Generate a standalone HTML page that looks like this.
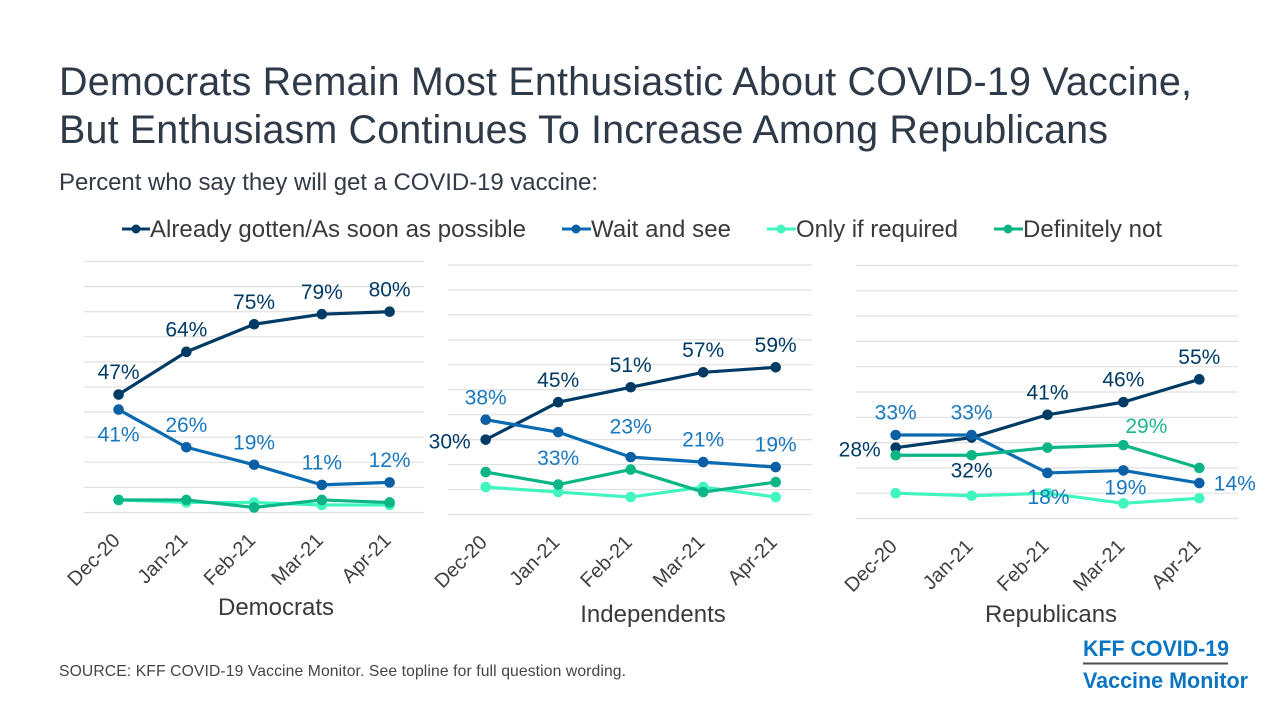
<!DOCTYPE html>
<html lang="en">
<head>
<meta charset="utf-8">
<title>Democrats Remain Most Enthusiastic About COVID-19 Vaccine</title>
<style>
  html, body { margin: 0; padding: 0; background: #ffffff; }
  svg { display: block; font-family: "Liberation Sans", Arial, sans-serif; }
</style>
</head>
<body>
<svg id="chart" xmlns="http://www.w3.org/2000/svg" width="1280" height="720" viewBox="0 0 1280 720">
  <rect width="1280" height="720" fill="#ffffff"/>
  <text x="59" y="95" font-size="39.5" fill="#2f3a48" textLength="1133" lengthAdjust="spacing">Democrats Remain Most Enthusiastic About COVID-19 Vaccine,</text>
  <text x="59" y="143" font-size="39.5" fill="#2f3a48" textLength="1049" lengthAdjust="spacing">But Enthusiasm Continues To Increase Among Republicans</text>
  <text x="59" y="190" font-size="24" fill="#333b47" textLength="539" lengthAdjust="spacing">Percent who say they will get a COVID-19 vaccine:</text>

  <g>
    <g>
      <line x1="122" y1="229" x2="150" y2="229" stroke="#003b65" stroke-width="3"/>
      <circle cx="136" cy="229" r="4.5" fill="#003b65"/>
      <text x="150" y="237" font-size="24" fill="#3a3a3a" textLength="376" lengthAdjust="spacing">Already gotten/As soon as possible</text>
    </g>
    <g>
      <line x1="562" y1="229" x2="591" y2="229" stroke="#0a6ab2" stroke-width="3"/>
      <circle cx="576" cy="229" r="4.5" fill="#0a5fa5"/>
      <text x="591" y="237" font-size="24" fill="#3a3a3a" textLength="140" lengthAdjust="spacing">Wait and see</text>
    </g>
    <g>
      <line x1="767" y1="229" x2="796" y2="229" stroke="#41f5c0" stroke-width="3"/>
      <circle cx="781" cy="229" r="4.5" fill="#41f5c0"/>
      <text x="796" y="237" font-size="24" fill="#3a3a3a" textLength="162" lengthAdjust="spacing">Only if required</text>
    </g>
    <g>
      <line x1="994" y1="229" x2="1023" y2="229" stroke="#0bb585" stroke-width="3"/>
      <circle cx="1008" cy="229" r="4.5" fill="#0bb585"/>
      <text x="1023" y="237" font-size="24" fill="#3a3a3a" textLength="139" lengthAdjust="spacing">Definitely not</text>
    </g>
  </g>

  <g id="panels"></g>

  <text x="59" y="676" font-size="15.7" fill="#444444" textLength="567" lengthAdjust="spacing">SOURCE: KFF COVID-19 Vaccine Monitor. See topline for full question wording.</text>

  <g>
    <text x="1083" y="656" font-size="22.5" font-weight="700" fill="#0a75c2" textLength="146" lengthAdjust="spacingAndGlyphs">KFF COVID-19</text>
    <line x1="1083" y1="663.5" x2="1228" y2="663.5" stroke="#4d4d4d" stroke-width="2"/>
    <text x="1083" y="688" font-size="22.5" font-weight="700" fill="#0a75c2" textLength="165" lengthAdjust="spacingAndGlyphs">Vaccine Monitor</text>
  </g>
</svg>

<script>
// Chart data
const categories = ['Dec-20', 'Jan-21', 'Feb-21', 'Mar-21', 'Apr-21'];
const gridTicks = [0, 10, 20, 30, 40, 50, 60, 70, 80, 90, 100];

const demAsSoon = [47, 64, 75, 79, 80];
const demWait = [41, 26, 19, 11, 12];
const demRequired = [5, 4, 4, 3, 3];
const demNot = [5, 5, 2, 5, 4];

const indAsSoon = [30, 45, 51, 57, 59];
const indWait = [38, 33, 23, 21, 19];
const indRequired = [11, 9, 7, 11, 7];
const indNot = [17, 12, 18, 9, 13];

const repAsSoon = [28, 32, 41, 46, 55];
const repWait = [33, 33, 18, 19, 14];
const repRequired = [10, 9, 10, 6, 8];
const repNot = [25, 25, 28, 29, 20];

// Label placement relative to each mark (dx, dy of the label centre)
const up = [0, -23];
const demAsSoonPlace = [up, up, up, up, up];
const demWaitPlace = [[0, 24.5], up, up, up, up];
const indAsSoonPlace = [[-36, 1], up, up, up, up];
const indWaitPlace = [up, [0, 25], [0, -31], up, up];
const repAsSoonPlace = [[-36, 1], [0, 32.5], up, up, up];
const repWaitPlace = [up, up, [1, 23.5], [2, 16.5], [35.5, 0]];
const repNotPlace = [null, null, null, [23, -19.5], null];

const panels = [
  {
    key: 'democrats', title: 'Democrats', titleX: 276, titleY: 615,
    left: 84, right: 424, top: 261.5, bottom: 512.5, firstX: 118.6, stepX: 67.75,
    series: [
      { key: 'as-soon-as-possible', values: demAsSoon, line: '#003b65', mark: '#003b65', text: '#003b65', place: demAsSoonPlace },
      { key: 'wait-and-see', values: demWait, line: '#0a6ab2', mark: '#0a5fa5', text: '#1a78bf', place: demWaitPlace },
      { key: 'only-if-required', values: demRequired, line: '#41f5c0', mark: '#41f5c0' },
      { key: 'definitely-not', values: demNot, line: '#0bb585', mark: '#0bb585' }
    ]
  },
  {
    key: 'independents', title: 'Independents', titleX: 653, titleY: 622,
    left: 448, right: 812, top: 265, bottom: 514.5, firstX: 485.7, stepX: 72.5,
    series: [
      { key: 'as-soon-as-possible', values: indAsSoon, line: '#003b65', mark: '#003b65', text: '#003b65', place: indAsSoonPlace },
      { key: 'wait-and-see', values: indWait, line: '#0a6ab2', mark: '#0a5fa5', text: '#1a78bf', place: indWaitPlace },
      { key: 'only-if-required', values: indRequired, line: '#41f5c0', mark: '#41f5c0' },
      { key: 'definitely-not', values: indNot, line: '#0bb585', mark: '#0bb585' }
    ]
  },
  {
    key: 'republicans', title: 'Republicans', titleX: 1051, titleY: 622,
    left: 856, right: 1238, top: 265.5, bottom: 518.5, firstX: 895.7, stepX: 75.9,
    series: [
      { key: 'as-soon-as-possible', values: repAsSoon, line: '#003b65', mark: '#003b65', text: '#003b65', place: repAsSoonPlace },
      { key: 'wait-and-see', values: repWait, line: '#0a6ab2', mark: '#0a5fa5', text: '#1a78bf', place: repWaitPlace },
      { key: 'only-if-required', values: repRequired, line: '#41f5c0', mark: '#41f5c0' },
      { key: 'definitely-not', values: repNot, line: '#0bb585', mark: '#0bb585', text: '#1bb68a', place: repNotPlace }
    ]
  }
];

const SVG_NS = 'http://www.w3.org/2000/svg';
const root = document.getElementById('panels');

function make(tag, parent, attrs) {
  const el = document.createElementNS(SVG_NS, tag);
  for (const k in attrs) el.setAttribute(k, attrs[k]);
  parent.appendChild(el);
  return el;
}

panels.forEach(function (p) {
  const xScale = function (i) { return p.firstX + i * p.stepX; };
  const yScale = function (v) { return p.bottom - (v / 100) * (p.bottom - p.top); };

  const group = make('g', root, {});
  
  

  gridTicks.forEach(function (t) {
    const grid = make('line', group, { x1: p.left, x2: p.right, y1: yScale(t), y2: yScale(t), stroke: '#e0e0e0', 'stroke-width': 1.2 });
    
    
  });

  categories.forEach(function (c, i) {
    const ax = xScale(i) + 2.5;
    const ay = p.bottom + 29;
    const tick = make('text', group, { x: ax, y: ay, 'font-size': 20, fill: '#404040', 'text-anchor': 'end', transform: 'rotate(-45 ' + ax + ' ' + ay + ')' });
    tick.textContent = c;
    
    
  });

  const title = make('text', group, { x: p.titleX, y: p.titleY, 'font-size': 24, fill: '#3a3a3a', 'text-anchor': 'middle' });
  title.textContent = p.title;
  
  

  p.series.forEach(function (s) {
    const sg = make('g', group, {});
    
    

    const pts = s.values.map(function (v, i) { return xScale(i) + ',' + yScale(v); }).join(' ');
    const poly = make('polyline', sg, { points: pts, fill: 'none', stroke: s.line, 'stroke-width': 3.2, 'stroke-linejoin': 'round' });
    
    

    s.values.forEach(function (v, i) {
      const dot = make('circle', sg, { cx: xScale(i), cy: yScale(v), r: 5.3, fill: s.mark });
      
      
    });
  });

  // Labels go on top of every series
  p.series.forEach(function (s) {
    if (!s.place) return;
    s.values.forEach(function (v, i) {
      const off = s.place[i];
      if (!off) return;
      const lab = make('text', group, { x: xScale(i) + off[0], y: yScale(v) + off[1] + 7.6, 'font-size': 21, fill: s.text, 'text-anchor': 'middle' });
      lab.textContent = v + '%';
      
      
    });
  });
});
</script>
</body>
</html>
